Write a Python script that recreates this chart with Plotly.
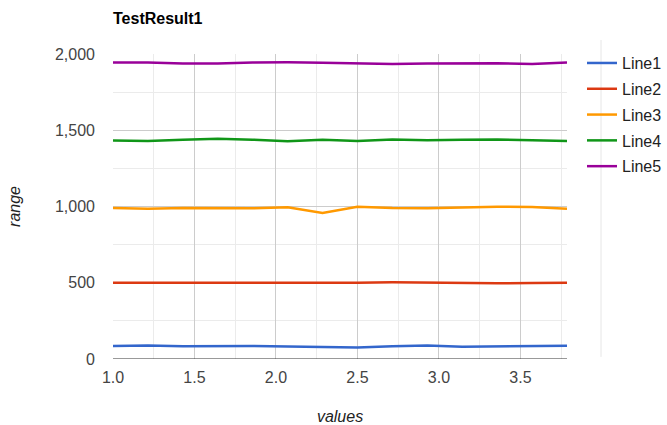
import plotly.graph_objects as go

# x positions: 14 evenly spaced samples from 1.0
x_values = [1 + i * 3 / 14 for i in range(14)]

line1 = [85, 88, 83, 85, 85, 82, 78, 75, 83, 88, 80, 83, 86, 87]
line2 = [500, 500, 500, 497, 497, 500, 500, 500, 503, 500, 500, 497, 498, 500]
line3 = [990, 985, 990, 990, 988, 995, 958, 998, 990, 988, 995, 998, 997, 985]
line4 = [1432, 1430, 1438, 1445, 1438, 1428, 1438, 1430, 1440, 1435, 1437, 1440, 1435, 1430]
line5 = [1945, 1945, 1938, 1937, 1945, 1946, 1942, 1940, 1935, 1938, 1938, 1940, 1935, 1945]

series_names = ["Line1", "Line2", "Line3", "Line4", "Line5"]
series_values = [line1, line2, line3, line4, line5]
colors = ["#3366cc", "#dc3912", "#ff9900", "#109618", "#990099"]

y_ticks = [0, 500, 1000, 1500, 2000]
x_ticks = [1.0, 1.5, 2.0, 2.5, 3.0, 3.5]

font_family = "Liberation Sans, Arial, sans-serif"

# paper area runs to the right edge; the plot uses the left 454 px,
# the legend sits in the remaining strip
PAPER_W = 667 - 113
PLOT_W = 454

fig = go.Figure()
for name, vals, col in zip(series_names, series_values, colors):
    fig.add_trace(go.Scatter(
        x=x_values, y=vals, name=name, mode="lines",
        line=dict(color=col, width=2.5),
        legendgroup=name,
    ))

fig.update_layout(
    width=667, height=425,
    margin=dict(l=113, r=0, t=54, b=66),
    paper_bgcolor="white", plot_bgcolor="white",
    font=dict(family=font_family, size=16, color="#444"),
    title=dict(
        text="<b>TestResult1</b>",
        font=dict(family=font_family, size=16, color="#000"),
        xref="paper", x=0, xanchor="left",
        yref="container", y=1 - 18 / 425, yanchor="middle",
    ),
    showlegend=True,
    legend=dict(
        x=1, xanchor="right", y=1.026, yanchor="top",
        font=dict(family=font_family, size=16, color="#222"),
        traceorder="grouped", tracegroupgap=2,
        bgcolor="rgba(0,0,0,0)",
    ),
    xaxis=dict(
        domain=[0, PLOT_W / PAPER_W],
        range=[x_values[0], x_values[-1]],
        tickvals=x_ticks, tickformat=".1f",
        showgrid=True, gridcolor="#cccccc", gridwidth=1,
        minor=dict(dtick=0.25, tick0=1.0, showgrid=True, gridcolor="#ebebeb"),
        zeroline=False, showline=False, ticks="",
        ticklabelstandoff=7, automargin=False,
        title=dict(text="<i>values</i>", font=dict(size=16, color="#222"), standoff=33),
    ),
    yaxis=dict(
        range=[0, 2000],
        tickvals=y_ticks, tickformat=",",
        showgrid=True, gridcolor="#cccccc", gridwidth=1,
        minor=dict(dtick=250, showgrid=True, gridcolor="#ebebeb"),
        zeroline=False, showline=False, ticks="",
        ticklabelstandoff=17, automargin=False,
        title=dict(text="<i>range</i>", font=dict(size=16, color="#222"), standoff=30),
    ),
)

# baseline at zero
fig.add_shape(type="line", xref="x domain", yref="y", x0=0, x1=1, y0=0, y1=0,
              line=dict(color="#333333", width=1))
# faint divider through the legend keys
fig.add_shape(type="line", xref="paper", yref="paper",
              x0=(601 - 113) / PAPER_W, x1=(601 - 113) / PAPER_W, y0=0.007, y1=1.046,
              line=dict(color="#e6e6e6", width=1), layer="below")

fig.write_html("out.html")
